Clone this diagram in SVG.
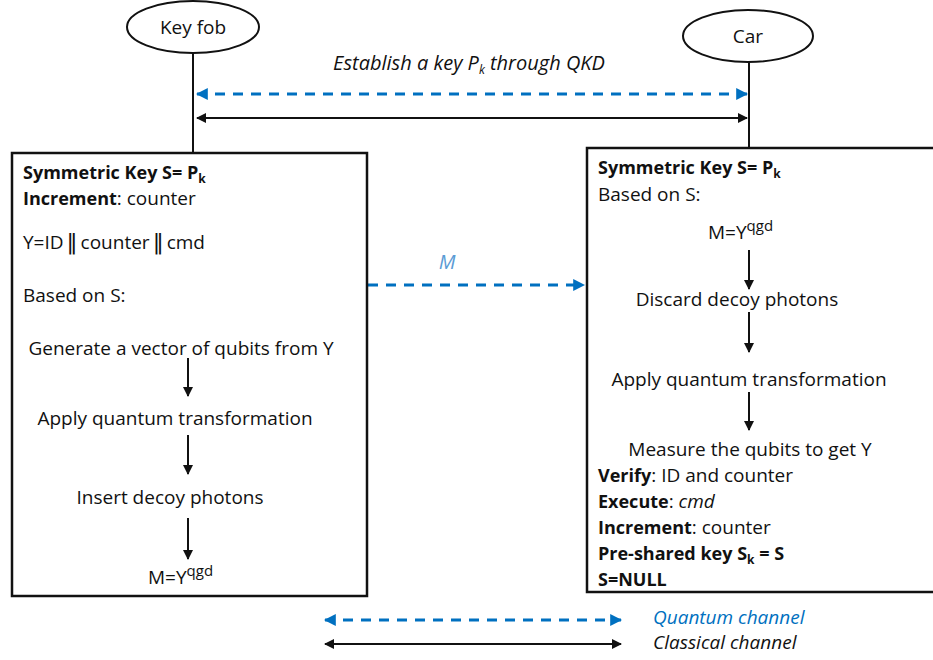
<svg xmlns="http://www.w3.org/2000/svg" width="933" height="660" viewBox="0 0 933 660">
<style>
text{font-family:"Open Sans","Liberation Sans",Arial,sans-serif;font-size:19px;fill:#111}
.b{font-weight:bold;font-size:18px}
.i{font-style:italic}
.it{font-style:italic;font-size:20px}
.lg{font-style:italic;font-size:19px}
.c{text-anchor:middle}
.sub{font-size:12px}
.sup{font-size:15px}
.bar{font-family:"DejaVu Sans",sans-serif;font-size:22px}
.box{fill:#fff;stroke:#111;stroke-width:2.5}
.life{stroke:#111;stroke-width:2;fill:none}
.q{stroke:#0070C0;stroke-width:3;stroke-dasharray:10 8;fill:none}
.k{stroke:#111;stroke-width:2;fill:none}
</style>
<defs>
<marker id="ab" viewBox="0 0 10 10" refX="9" refY="5" markerWidth="4" markerHeight="4" orient="auto-start-reverse"><path d="M0,0L10,5L0,10z" fill="#0070C0"/></marker>
<marker id="ak" viewBox="0 0 10 10" refX="9" refY="5" markerWidth="5" markerHeight="5" orient="auto-start-reverse"><path d="M0,0L10,5L0,10z" fill="#111"/></marker>
</defs>
<rect width="933" height="660" fill="#fff"/>
<g id="connectors">
<line class="life" x1="193" y1="53" x2="193" y2="153"/>
<line class="life" x1="749" y1="62" x2="749" y2="148"/>
<line class="q" x1="197" y1="94" x2="747" y2="94" marker-start="url(#ab)" marker-end="url(#ab)"/>
<line class="k" x1="197" y1="118" x2="747" y2="118" marker-start="url(#ak)" marker-end="url(#ak)"/>
<line class="q" x1="368" y1="285" x2="584" y2="285" marker-end="url(#ab)"/>
<line class="q" x1="325" y1="620" x2="621" y2="620" marker-start="url(#ab)" marker-end="url(#ab)"/>
<line class="k" x1="325" y1="644" x2="621" y2="644" marker-start="url(#ak)" marker-end="url(#ak)"/>
</g>
<g id="keyfob">
<ellipse cx="193" cy="27" rx="66" ry="26" fill="#fff" stroke="#111" stroke-width="2"/>
<text x="193" y="34" class="c">Key fob</text>
</g>
<g id="car">
<ellipse cx="748" cy="36" rx="65" ry="26" fill="#fff" stroke="#111" stroke-width="2"/>
<text x="748" y="43" class="c">Car</text>
</g>
<g id="label-qkd">
<text x="469" y="70" class="c it">Establish a key P<tspan class="sub" dy="4">k</tspan><tspan dy="-4"> through QKD</tspan></text>
</g>
<g id="label-m">
<text x="447" y="269" class="c it" style="fill:#5B9BD5">M</text>
</g>
<g id="fob-box">
<rect class="box" x="12" y="153" width="355" height="443"/>
<text x="23" y="179" class="b">Symmetric Key S= P<tspan class="sub" dy="4">k</tspan></text>
<text x="23" y="205"><tspan class="b">Increment</tspan>: counter</text>
<text x="23" y="249">Y=ID<tspan class="bar" dx="3">‖</tspan><tspan dx="3">counter</tspan><tspan class="bar" dx="3">‖</tspan><tspan dx="3">cmd</tspan></text>
<text x="23" y="302">Based on S:</text>
<text x="181" y="355" class="c">Generate a vector of qubits from Y</text>
<line class="k" x1="188" y1="358" x2="188" y2="396" marker-end="url(#ak)"/>
<text x="175" y="425" class="c">Apply quantum transformation</text>
<line class="k" x1="188" y1="435" x2="188" y2="474" marker-end="url(#ak)"/>
<text x="170" y="504" class="c">Insert decoy photons</text>
<line class="k" x1="188" y1="518" x2="188" y2="559" marker-end="url(#ak)"/>
<text x="148" y="584">M=Y<tspan class="sup" dy="-8">qgd</tspan></text>
</g>
<g id="car-box">
<rect class="box" x="587" y="148" width="360" height="444"/>
<text x="598" y="174" class="b">Symmetric Key S= P<tspan class="sub" dy="4">k</tspan></text>
<text x="598" y="201">Based on S:</text>
<text x="708" y="239">M=Y<tspan class="sup" dy="-8">qgd</tspan></text>
<line class="k" x1="749" y1="250" x2="749" y2="289" marker-end="url(#ak)"/>
<text x="737" y="306" class="c">Discard decoy photons</text>
<line class="k" x1="749" y1="312" x2="749" y2="352" marker-end="url(#ak)"/>
<text x="749" y="386" class="c">Apply quantum transformation</text>
<line class="k" x1="749" y1="392" x2="749" y2="430" marker-end="url(#ak)"/>
<text x="750" y="456" class="c">Measure the qubits to get Y</text>
<text x="598" y="482"><tspan class="b">Verify</tspan>: ID and counter</text>
<text x="598" y="508"><tspan class="b">Execute</tspan>: <tspan class="i">cmd</tspan></text>
<text x="598" y="534"><tspan class="b">Increment</tspan>: counter</text>
<text x="598" y="560" class="b">Pre-shared key S<tspan class="sub" dy="4">k</tspan><tspan dy="-4"> = S</tspan></text>
<text x="598" y="586" class="b">S=NULL</text>
</g>
<g id="legend">
<text x="653" y="624" class="lg" style="fill:#0070C0">Quantum channel</text>
<text x="653" y="649" class="lg">Classical channel</text>
</g>
</svg>
